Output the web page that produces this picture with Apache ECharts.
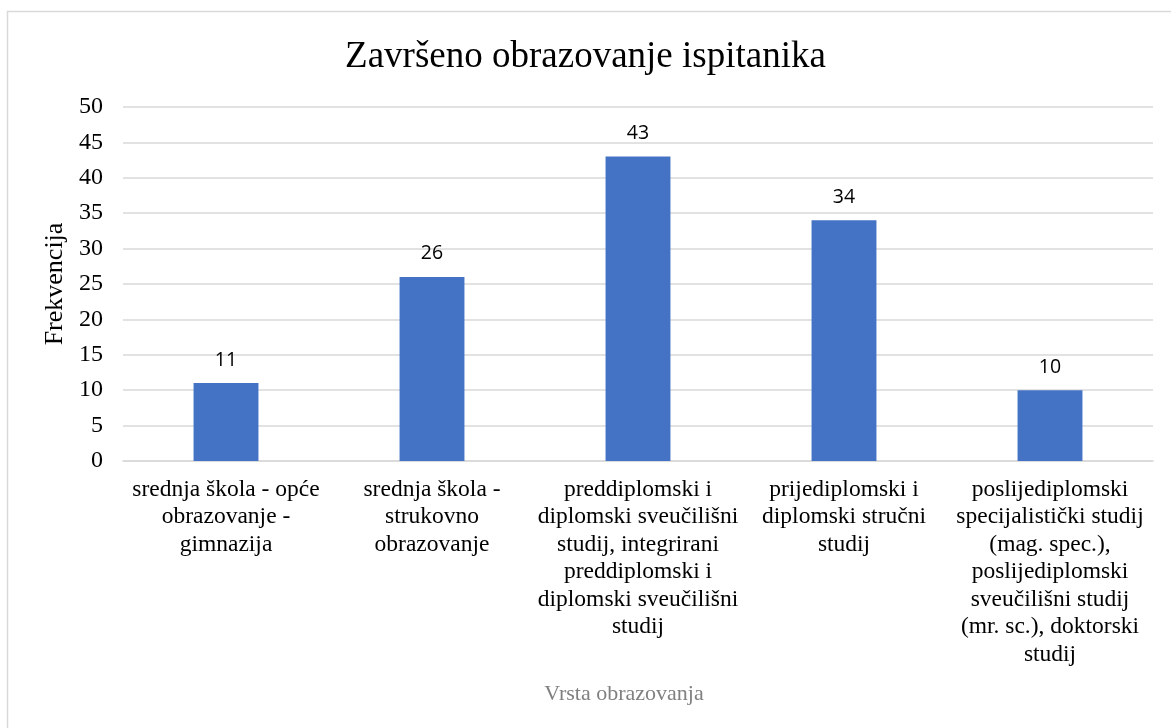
<!DOCTYPE html>
<html>
<head>
<meta charset="utf-8">
<script src="https://cdn.jsdelivr.net/npm/echarts@6/dist/echarts.min.js"></script>
<style>
  html, body { margin: 0; padding: 0; background: #fff; }
  #chart { width: 1171px; height: 728px; }
</style>
</head>
<body>
<div id="chart"></div>
<script>
const categories = [
  'srednja škola - opće\nobrazovanje -\ngimnazija',
  'srednja škola -\nstrukovno\nobrazovanje',
  'preddiplomski i\ndiplomski sveučilišni\nstudij, integrirani\npreddiplomski i\ndiplomski sveučilišni\nstudij',
  'prijediplomski i\ndiplomski stručni\nstudij',
  'poslijediplomski\nspecijalistički studij\n(mag. spec.),\nposlijediplomski\nsveučilišni studij\n(mr. sc.), doktorski\nstudij'
]
const frequencies = [11, 26, 43, 34, 10]

const serif = '"Liberation Serif", "Times New Roman", serif'

const chart = echarts.init(document.getElementById('chart'))
chart.setOption({
  backgroundColor: '#fff',
  animation: false,
  title: {
    text: 'Završeno obrazovanje ispitanika',
    left: 'center',
    top: 34,
    textStyle: { fontFamily: serif, fontSize: 37, fontWeight: 'normal', color: '#000' }
  },
  graphic: [{
    type: 'rect',
    shape: { x: 7.5, y: 11.5, width: 1200, height: 800 },
    style: { fill: 'none', stroke: '#d9d9d9', lineWidth: 1.5 },
    silent: true
  }],
  grid: { left: 123, right: 18, top: 107, bottom: 267 },
  xAxis: {
    type: 'category',
    data: categories,
    name: 'Vrsta obrazovanja',
    nameLocation: 'middle',
    nameGap: 222,
    nameTextStyle: { fontFamily: serif, fontSize: 22, color: '#808080', padding: [0, 28, 0, 0] },
    axisLine: { lineStyle: { color: '#d9d9d9', width: 1.5 } },
    axisTick: { show: false },
    axisLabel: {
      interval: 0,
      margin: 15,
      fontFamily: serif,
      fontSize: 23.5,
      lineHeight: 27.5,
      color: '#000',
      align: 'center'
    }
  },
  yAxis: {
    type: 'value',
    min: 0,
    max: 50,
    interval: 5,
    name: 'Frekvencija',
    nameLocation: 'middle',
    nameGap: 52,
    nameRotate: 90,
    nameTextStyle: { fontFamily: serif, fontSize: 26, color: '#000' },
    axisLine: { show: false },
    axisTick: { show: false },
    axisLabel: { fontFamily: serif, fontSize: 24, color: '#000', margin: 20 },
    splitLine: { lineStyle: { color: '#d9d9d9', width: 1.5 } }
  },
  series: [{
    type: 'bar',
    data: frequencies,
    barWidth: '31.5%',
    itemStyle: { color: '#4472C4' },
    label: {
      show: true,
      position: 'top',
      distance: 13,
      fontFamily: '"Open Sans", "Liberation Sans", sans-serif',
      fontSize: 19.5,
      color: '#000'
    }
  }]
})
</script>
</body>
</html>
